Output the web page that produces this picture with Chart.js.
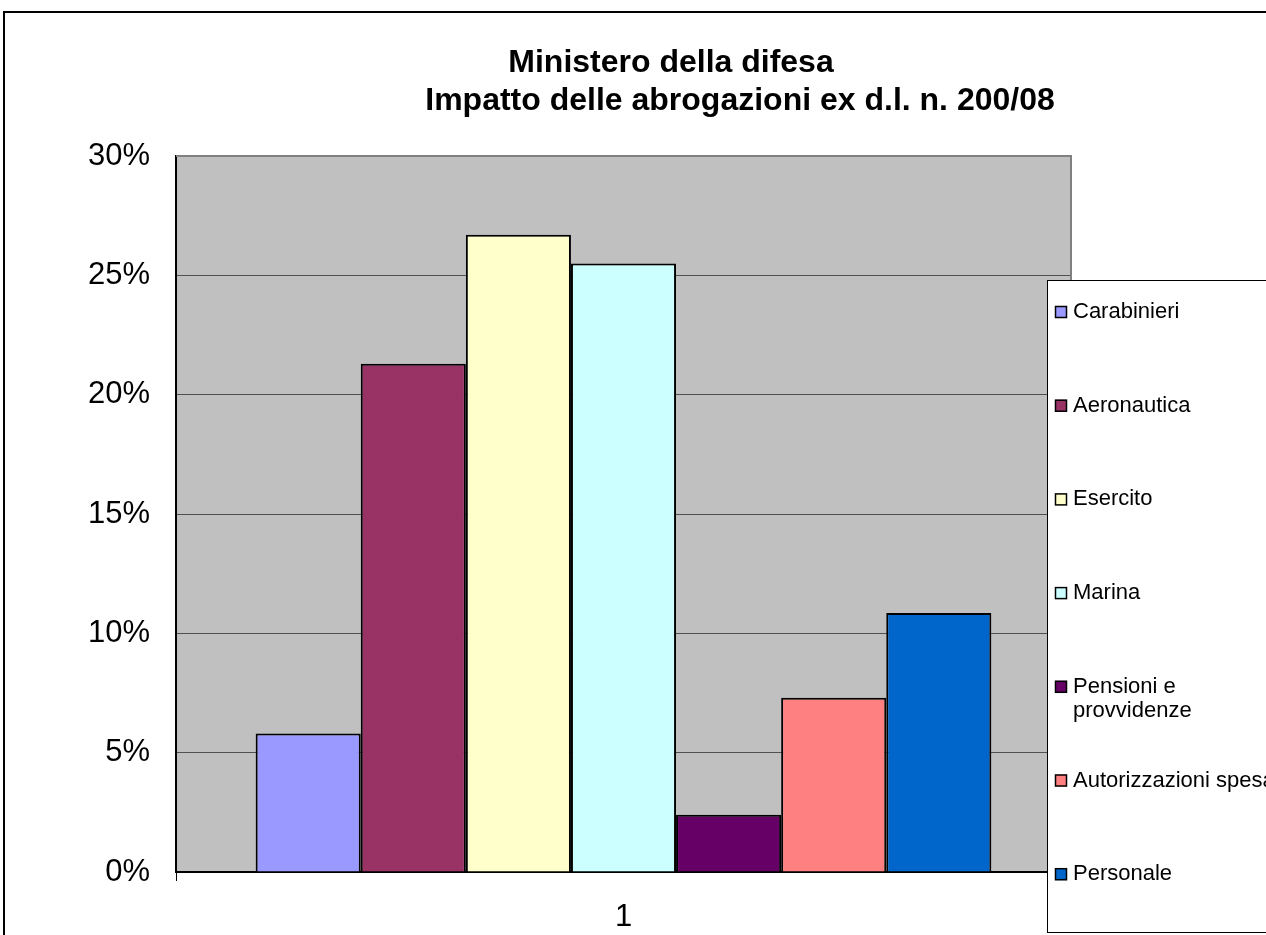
<!DOCTYPE html>
<html>
<head>
<meta charset="utf-8">
<title>Ministero della difesa</title>
<script src="https://cdn.jsdelivr.net/npm/chart.js@4/dist/chart.umd.min.js"></script>
<style>
  html, body { margin: 0; padding: 0; background: #ffffff; }
  #chart { display: block; }
</style>
</head>
<body>
<canvas id="chart" width="1266" height="935"></canvas>
<script>
// data (percent)
const categories = ['1'];
const seriesNames = ['Carabinieri', 'Aeronautica', 'Esercito', 'Marina', 'Pensioni e\nprovvidenze', 'Autorizzazioni spesa', 'Personale'];
const seriesValues = [5.8, 21.3, 26.7, 25.5, 2.4, 7.3, 10.85];
const seriesColors = ['#9999FF', '#993366', '#FFFFCC', '#CCFFFF', '#660066', '#FF8080', '#0066CC'];
const yTicks = [0, 5, 10, 15, 20, 25, 30];
const titleLines = ['Ministero della difesa', 'Impatto delle abrogazioni ex d.l. n. 200/08'];

const FONT = "'Liberation Sans', Arial, sans-serif";

// gray plot background + top/right border
const plotArea = {
  id: 'plotArea',
  beforeDraw(chart) {
    const { ctx, chartArea: a } = chart;
    ctx.save();
    ctx.fillStyle = '#C0C0C0';
    ctx.fillRect(a.left, a.top, a.right - a.left, a.bottom - a.top);
    ctx.restore();
  },
  afterDatasetsDraw(chart) {
    const { ctx, chartArea: a } = chart;
    ctx.save();
    ctx.strokeStyle = '#808080';
    ctx.lineWidth = 2;
    ctx.beginPath();
    ctx.moveTo(a.left, a.top);
    ctx.lineTo(a.right, a.top);
    ctx.lineTo(a.right, a.bottom);
    ctx.stroke();
    ctx.restore();
  }
};

// title, boxed legend and outer frame
const decorations = {
  id: 'decorations',
  afterDraw(chart) {
    const ctx = chart.ctx;
    ctx.save();

    // title
    ctx.fillStyle = '#000';
    ctx.font = 'bold 32px ' + FONT;
    ctx.textAlign = 'center';
    ctx.textBaseline = 'alphabetic';
    ctx.fillText(titleLines[0], 671, 72);
    ctx.fillText(titleLines[1], 740, 110);

    // legend box
    ctx.fillStyle = '#fff';
    ctx.fillRect(1047, 280, 240, 653);
    ctx.strokeStyle = '#000';
    ctx.lineWidth = 1;
    ctx.strokeRect(1047.5, 280.5, 240, 652);

    ctx.font = '22px ' + FONT;
    ctx.textAlign = 'left';
    ctx.textBaseline = 'middle';
    chart.data.datasets.forEach((ds, i) => {
      const y = 312 + i * 93.7;
      ctx.fillStyle = ds.backgroundColor;
      ctx.fillRect(1055, y - 6, 12, 12);
      ctx.strokeStyle = '#000';
      ctx.lineWidth = 1.5;
      ctx.strokeRect(1055.5, y - 5.5, 11, 11);
      ctx.fillStyle = '#000';
      ds.label.split('\n').forEach((line, k) => {
        ctx.fillText(line, 1073, y + k * 24);
      });
    });

    // outer frame
    ctx.strokeStyle = '#000';
    ctx.lineWidth = 2;
    ctx.strokeRect(4, 12, 1300, 1000);
    ctx.restore();
  }
};

new Chart(document.getElementById('chart'), {
  type: 'bar',
  data: {
    labels: categories,
    datasets: seriesNames.map((name, i) => ({
      label: name,
      data: [seriesValues[i]],
      backgroundColor: seriesColors[i],
      borderColor: '#000000',
      borderWidth: 2,
      categoryPercentage: 0.822,
      barPercentage: 1
    }))
  },
  options: {
    responsive: false,
    animation: false,
    layout: { padding: { left: 0, top: 156, right: 195, bottom: 0 } },
    plugins: {
      legend: { display: false },
      title: { display: false },
      tooltip: { enabled: false }
    },
    scales: {
      x: {
        grid: { display: true, drawOnChartArea: false, drawTicks: true, tickLength: 9, color: '#000' },
        border: { color: '#000', width: 2 },
        ticks: { color: '#000', font: { family: FONT, size: 31 }, padding: 18 },
        afterFit: (scale) => { scale.height = 63; }
      },
      y: {
        min: yTicks[0],
        max: yTicks[yTicks.length - 1],
        afterBuildTicks: (scale) => { scale.ticks = yTicks.map(v => ({ value: v })); },
        grid: { color: '#505050', lineWidth: 1, drawTicks: false },
        border: { color: '#000', width: 2 },
        ticks: {
          color: '#000',
          font: { family: FONT, size: 31 },
          padding: 26,
          callback: (v) => v + '%'
        },
        afterFit: (scale) => { scale.width = 176; }
      }
    }
  },
  plugins: [plotArea, decorations]
});
</script>
</body>
</html>
